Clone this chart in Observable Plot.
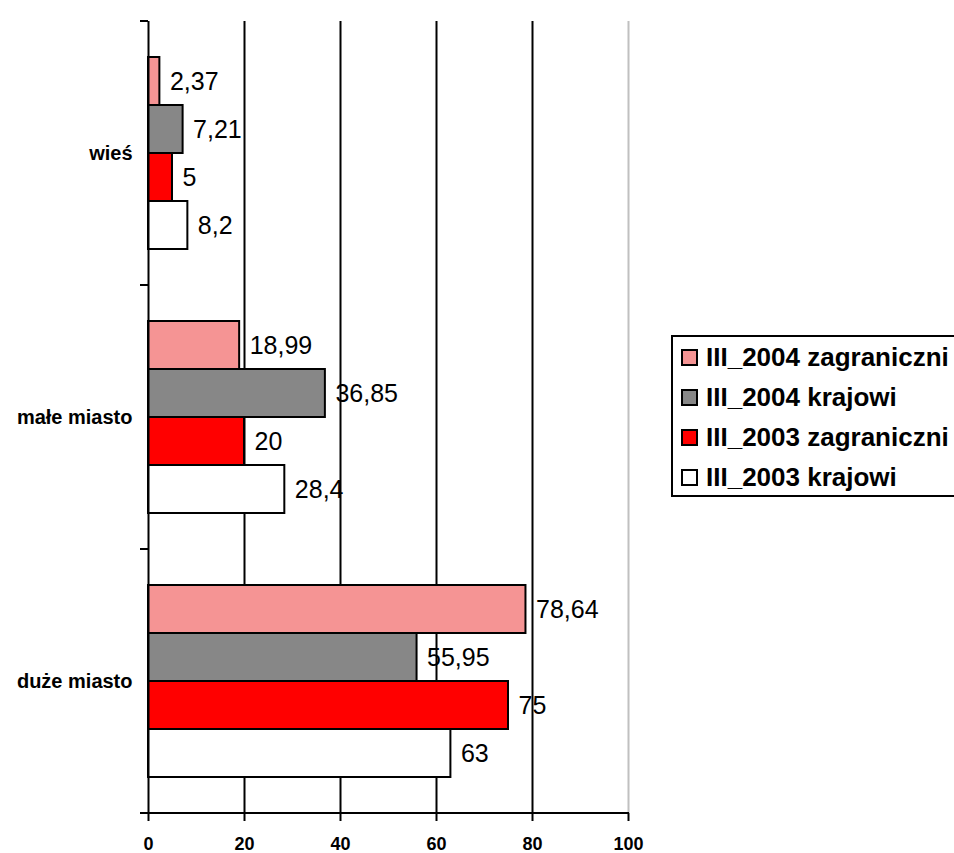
<!DOCTYPE html>
<html>
<head>
<meta charset="utf-8">
<script src="https://cdn.jsdelivr.net/npm/d3@7"></script>
<script src="https://cdn.jsdelivr.net/npm/@observablehq/plot@0.6"></script>
<style>
  html, body { margin: 0; padding: 0; background: #fff; }
  body { width: 954px; height: 853px; overflow: hidden; position: relative; font-family: 'Liberation Sans', Arial, sans-serif; }
  #chart { position: absolute; left: 0; top: 0; }
  #legend { position: absolute; left: 671px; top: 335px; width: 420px; height: 158px; border: 2px solid #000; }
  .row { height: 40px; line-height: 40px; display: flex; align-items: center; font-weight: bold; font-size: 26px; color: #000; white-space: nowrap; }
  .row svg { margin-left: 8px; margin-right: 8px; flex: none; }
</style>
</head>
<body>
<div id="chart"></div>
<div id="legend"></div>
<script>
const categories = ["wieś", "małe miasto", "duże miasto"];
const series = ["III_2004 zagraniczni", "III_2004 krajowi", "III_2003 zagraniczni", "III_2003 krajowi"];
const v2004zagraniczni = [2.37, 18.99, 78.64];
const v2004krajowi = [7.21, 36.85, 55.95];
const v2003zagraniczni = [5, 20, 75];
const v2003krajowi = [8.2, 28.4, 63];
const xTicks = [0, 20, 40, 60, 80, 100];
const gridTicks = [20, 40, 60, 80];
const edgeTick = [100];
const seriesFills = ["#f59494", "#878787", "#ff0000", "#ffffff"];

const valuesBySeries = [v2004zagraniczni, v2004krajowi, v2003zagraniczni, v2003krajowi];
const data = series.flatMap((s, i) => categories.map((c, j) => ({cat: c, series: s, value: valuesBySeries[i][j]})));
const fmt = v => String(v).replace(".", ",");

const chart = Plot.plot({
  width: 954,
  height: 853,
  marginLeft: 148,
  marginRight: 326,
  marginTop: 20,
  marginBottom: 40,
  style: {fontFamily: "'Liberation Sans', Arial, sans-serif", background: "white", color: "black"},
  x: {domain: [0, 100]},
  y: {domain: series, paddingInner: 0, paddingOuter: 0.74, axis: null},
  fy: {domain: categories, padding: 0},
  color: {domain: series, range: seriesFills},
  marks: [
    Plot.ruleX(gridTicks, {stroke: "black", strokeWidth: 2}),
    Plot.ruleX(edgeTick, {stroke: "#c0c0c0", strokeWidth: 2}),
    Plot.barX(data, {x: "value", y: "series", fy: "cat", fill: "series", stroke: "black", strokeWidth: 2}),
    Plot.text(data, {x: "value", y: "series", fy: "cat", text: d => fmt(d.value), textAnchor: "start", dx: 10, fontSize: 25, fill: "black"}),
    Plot.ruleX([0], {stroke: "black", strokeWidth: 2}),
    Plot.axisX({ticks: xTicks, tickSize: 8, tickPadding: 16, fontSize: 18, fontWeight: "bold", strokeWidth: 2, label: null}),
    Plot.axisFy({anchor: "left", tickSize: 0, tickPadding: 16, fontSize: 20, fontWeight: "bold", label: null})
  ]
});

const svg = d3.select(chart);

// category boundary ticks and bottom axis line, from Plot's scales
const fyS = chart.scale("fy");
const xS = chart.scale("x");
const x0 = xS.apply(0), x100 = xS.apply(100);
const bounds = categories.map(c => fyS.apply(c));
const bottom = fyS.apply(categories[categories.length - 1]) + fyS.bandwidth;
bounds.push(bottom);
const g = svg.append("g").attr("stroke", "black").attr("stroke-width", 2);
bounds.forEach(yv => {
  g.append("line").attr("x1", x0 - 8).attr("x2", x0).attr("y1", yv).attr("y2", yv);
});
g.append("line").attr("x1", x0 - 8).attr("x2", x100 + 1).attr("y1", bottom).attr("y2", bottom);

document.getElementById("chart").appendChild(chart);

// legend
const colorScale = chart.scale("color");
const legend = d3.select("#legend");
series.forEach(s => {
  const row = legend.append("div").attr("class", "row");
  const sw = row.append("svg").attr("width", 17).attr("height", 17);
  sw.append("rect").attr("x", 1).attr("y", 1).attr("width", 15).attr("height", 15)
    .attr("fill", colorScale.apply(s)).attr("stroke", "black").attr("stroke-width", 2);
  row.append("span").text(s);
});
</script>
</body>
</html>
